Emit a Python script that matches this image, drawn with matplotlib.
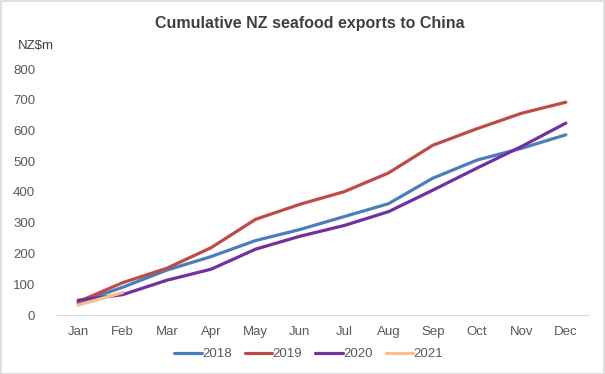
import matplotlib
matplotlib.use("Agg")
import matplotlib.pyplot as plt
from matplotlib.patches import Rectangle

plt.rcParams["font.family"] = ["Liberation Sans", "DejaVu Sans"]

months = ["Jan", "Feb", "Mar", "Apr", "May", "Jun", "Jul", "Aug", "Sep", "Oct", "Nov", "Dec"]
s2018 = [40, 90, 146, 190, 242, 278, 320, 362, 445, 504, 542, 586]
s2019 = [43, 105, 152, 219, 311, 360, 401, 462, 552, 606, 656, 692]
s2020 = [48, 66, 113, 149, 214, 256, 291, 336, 406, 478, 548, 624]
s2021 = [32, 73]
labels = ["2018", "2019", "2020", "2021"]
colors = ["#4A7EBB", "#BE4B48", "#7030A0", "#F9BE8E"]
yticks = [0, 100, 200, 300, 400, 500, 600, 700, 800]

fig = plt.figure(figsize=(6.05, 3.74), dpi=100)
ax = fig.add_axes([56 / 605, 59 / 374, 532 / 605, 246 / 374])

for data, lab, col in zip([s2018, s2019, s2020, s2021], labels, colors):
    ax.plot(range(len(data)), data, color=col, lw=2.3, label=lab, solid_capstyle="round")

ax.set_xlim(-0.5, 11.5)
ax.set_ylim(0, 800)
ax.set_xticks(range(12))
ax.set_xticklabels(months)
ax.set_yticks(yticks)
for s in ["top", "right", "left"]:
    ax.spines[s].set_visible(False)
ax.spines["bottom"].set_color("#D9D9D9")
ax.tick_params(axis="both", length=0, colors="#595959", labelsize=9.5)
ax.tick_params(axis="x", pad=8)
ax.tick_params(axis="y", pad=15)

fig.text(0.512, 0.938, "Cumulative NZ seafood exports to China", ha="center", va="center",
         fontsize=11.5, fontweight="bold", color="#404040")
fig.text(0.030, 0.877, "NZ$m", ha="left", va="center", fontsize=9.5, color="#404040")

leg = fig.legend(loc="center", bbox_to_anchor=(0.51, 0.053), ncol=4, frameon=False,
                 fontsize=9.5, handlelength=2.1, handletextpad=0.0, columnspacing=1.0,
                 labelcolor="#595959")

fig.add_artist(Rectangle((0.001, 0.001), 0.997, 0.996, transform=fig.transFigure,
                         fill=False, edgecolor="#D9D9D9", lw=1.2))

fig.savefig("out.png", dpi=100)
